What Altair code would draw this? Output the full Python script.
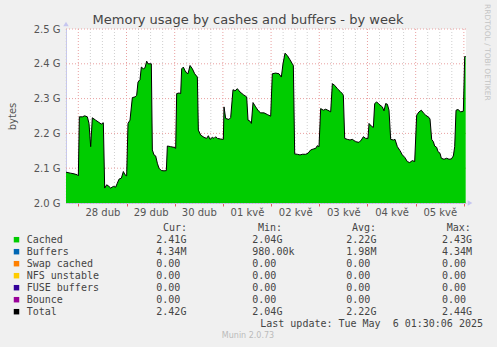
import altair as alt
import pandas as pd

# ---- data (hours since 27 Apr 00:00, value in GB) ----
hours = [17.87, 20.20, 21.86, 23.52, 24.02, 24.51, 26.01, 27.17, 28.50, 29.33, 30.16, 30.98,
         32.64, 34.31, 35.47, 36.47, 37.13, 38.13, 39.29, 40.12, 41.45, 42.61, 43.44, 44.27,
         45.44, 46.43, 47.26, 48.08, 48.75, 49.74, 50.91, 52.24, 53.06, 53.73, 54.72, 55.39,
         56.39, 57.22, 58.05, 58.71, 60.37, 60.87, 61.70, 62.53, 63.36, 64.18, 65.35, 66.68,
         67.84, 68.34, 70.00, 71.66, 72.49, 72.99, 74.15, 74.98, 75.48, 76.31, 77.47, 78.64,
         79.63, 80.79, 81.96, 83.29, 83.78, 84.94, 86.60, 87.92, 88.76, 89.59, 90.75, 91.58,
         92.41, 93.24, 94.90, 96.23, 96.56, 97.39, 99.05, 99.88, 101.04, 102.03, 103.20, 104.53,
         106.19, 107.85, 108.52, 109.51, 110.18, 111.00, 112.33, 113.66, 114.82, 116.48,
         118.14, 119.80, 120.62, 122.28, 123.94, 125.11, 125.94, 126.93, 128.10, 129.43,
         130.58, 131.09, 131.75, 133.08, 134.40, 135.57, 137.23, 138.38, 139.71, 141.04,
         142.21, 143.03, 143.87, 144.69, 146.02, 147.19, 148.85, 149.68, 150.51, 151.67,
         153.00, 154.33, 155.49, 155.99, 156.65, 157.98, 159.31, 160.46, 162.12, 163.79,
         164.95, 165.95, 167.11, 168.27, 168.77, 169.93, 170.93, 171.59, 172.59, 173.75,
         175.41, 176.24, 177.07, 177.90, 178.73, 179.56, 180.89, 181.72, 182.89, 184.20,
         185.37, 186.53, 187.86, 189.02, 190.35, 191.51, 192.51, 193.67, 194.83, 195.83,
         196.99, 198.66, 199.15, 199.98, 200.81, 201.47, 202.47, 203.13, 204.13, 204.79,
         206.12, 207.45, 208.61, 209.78, 210.77, 211.44, 212.10, 213.10, 214.43, 215.75,
         216.42, 216.92]
cached = [2.0886, 2.0857, 2.0838, 2.0810, 2.0781, 2.2476, 2.2476, 2.2505, 2.2476, 2.2286, 2.1619, 2.2448,
          2.2381, 2.2314, 2.2267, 2.2305, 2.0429, 2.0524, 2.0476, 2.0429, 2.0476, 2.0457, 2.0571, 2.0686,
          2.0714, 2.0905, 2.0810, 2.0781, 2.2286, 2.2381, 2.3029, 2.3048, 2.3095, 2.3476, 2.3543, 2.3905,
          2.3857, 2.3886, 2.4076, 2.4000, 2.4000, 2.1524, 2.1381, 2.1352, 2.1143, 2.1000, 2.0933, 2.0924,
          2.0930, 2.1638, 2.1619, 2.1600, 2.1571, 2.3143, 2.3162, 2.3143, 2.3857, 2.3905, 2.3762, 2.3714,
          2.3952, 2.3857, 2.3714, 2.3619, 2.2095, 2.1952, 2.1886, 2.1857, 2.1933, 2.1829, 2.1886, 2.1857,
          2.1905, 2.1857, 2.1838, 2.1829, 2.2762, 2.2429, 2.2400, 2.2457, 2.3257, 2.3219, 2.3286, 2.3190,
          2.3114, 2.3048, 2.2381, 2.2352, 2.2286, 2.2886, 2.2762, 2.2648, 2.2590, 2.2590,
          2.2543, 2.2495, 2.3714, 2.3733, 2.3714, 2.3619, 2.4000, 2.4305, 2.4238, 2.4114,
          2.4000, 2.3952, 2.1410, 2.1400, 2.1381, 2.1400, 2.1400, 2.1429, 2.1524, 2.1552,
          2.1571, 2.1648, 2.1619, 2.2714, 2.2667, 2.2695, 2.2648, 2.2619, 2.3429, 2.3381,
          2.3286, 2.3210, 2.3143, 2.3095, 2.1857, 2.1829, 2.1810, 2.1829, 2.1762, 2.1743,
          2.1810, 2.1905, 2.1857, 2.1857, 2.2286, 2.2210, 2.2171, 2.2857, 2.2905, 2.2838,
          2.2762, 2.2648, 2.2857, 2.2838, 2.2667, 2.1829, 2.1810, 2.1829, 2.1619, 2.1505,
          2.1381, 2.1314, 2.1190, 2.1162, 2.1219, 2.1190, 2.2524, 2.2619, 2.2667, 2.2590,
          2.2524, 2.2457, 2.2410, 2.1829, 2.1762, 2.1638, 2.1600, 2.1476, 2.1429, 2.1286,
          2.1257, 2.1286, 2.1257, 2.1267, 2.1352, 2.1619, 2.2667, 2.2686, 2.2619, 2.2638,
          2.4210, 2.4210]

# axis ticks / labels
grid_hours = [18, 24, 30, 36, 42, 48, 54, 60, 66, 72, 78, 84, 90, 96, 102, 108, 114, 120,
              126, 132, 138, 144, 150, 156, 162, 168, 174, 180, 186, 192, 198, 204, 210, 216]
day_labels = ["27 dub", "28 dub", "29 dub", "30 dub", "01 kvě", "02 kvě", "03 kvě", "04 kvě", "05 kvě"]
y_ticks = [2.0, 2.1, 2.2, 2.3, 2.4, 2.5]

# legend table
legend_names = ["Cached", "Buffers", "Swap cached", "NFS unstable", "FUSE buffers", "Bounce", "Total"]
legend_colors = ["#00cc00", "#0066b3", "#ff8000", "#ffcc00", "#330099", "#990099", "#000000"]
cur_num = ["2.41", "4.34", "0.00", "0.00", "0.00", "0.00", "2.42"]
cur_sfx = ["G", "M", "", "", "", "", "G"]
min_num = ["2.04", "980.00", "0.00", "0.00", "0.00", "0.00", "2.04"]
min_sfx = ["G", "k", "", "", "", "", "G"]
avg_num = ["2.22", "1.98", "0.00", "0.00", "0.00", "0.00", "2.22"]
avg_sfx = ["G", "M", "", "", "", "", "G"]
max_num = ["2.43", "4.34", "0.00", "0.00", "0.00", "0.00", "2.44"]
max_sfx = ["G", "M", "", "", "", "", "G"]
headers = ["Cur:", "Min:", "Avg:", "Max:"]

NB = "\u00a0"


def fmt(n, s):
    return NB * (6 - len(n)) + n + s


df = pd.DataFrame({"h": hours, "v": cached})
leg = pd.DataFrame({
    "row": list(range(len(legend_names))),
    "name": legend_names,
    "color": legend_colors,
    "cur": [fmt(n, s) for n, s in zip(cur_num, cur_sfx)],
    "mn": [fmt(n, s) for n, s in zip(min_num, min_sfx)],
    "avg": [fmt(n, s) for n, s in zip(avg_num, avg_sfx)],
    "mx": [fmt(n, s) for n, s in zip(max_num, max_sfx)],
})

MAJOR = "#e9a0a0"
MINOR = "#cfcfcf"
AXISC = "#c6c6f0"
TXT = "#555555"

vgrid = pd.DataFrame({"h": grid_hours,
                      "c": [MAJOR if h % 24 == 0 else MINOR for h in grid_hours]})
hgrid = pd.DataFrame({"g": y_ticks})

label_arr = "[" + ",".join("'" + d + "'" for d in day_labels) + "]"
x_axis = alt.Axis(
    values=grid_hours, grid=False,
    tickColor={"condition": {"test": "datum.value % 24 === 0", "value": "#e06060"}, "value": "transparent"},
    tickSize=3, domainColor=AXISC,
    labelExpr="datum.value % 24 === 12 ? " + label_arr + "[floor(datum.value / 24)] : ''",
    labelFont="DejaVu Sans", labelFontSize=10, labelColor=TXT, labelPadding=6,
    labelBaseline="middle", labelOverlap=False, labelFlush=False, title=None,
)
y_axis = alt.Axis(
    values=y_ticks, grid=False,
    tickSize=0, domainColor=AXISC,
    labelExpr="format(datum.value, '.1f') + ' G'",
    labelFont="DejaVu Sans", labelFontSize=10, labelColor=TXT, labelPadding=6,
    title="bytes", titleFont="DejaVu Sans", titleFontSize=10, titleFontWeight="normal",
    titleColor=TXT, titleX=-54, titleY=87, titleAngle=-90, titleAlign="center",
    titleBaseline="middle",
)

x_scale = alt.Scale(domain=[17.87, 217.07], nice=False, zero=False)
x_enc = alt.X("h:Q", scale=x_scale, axis=x_axis)
y_scale = alt.Scale(domain=[2.0, 2.5], nice=False, zero=False)

vrules = alt.Chart(vgrid).mark_rule(strokeDash=[1, 2], strokeWidth=1).encode(
    x=x_enc, y=alt.value(0), y2=alt.value(174), color=alt.Color("c:N", scale=None))
hrules = alt.Chart(hgrid).mark_rule(strokeDash=[1, 2], strokeWidth=1, color=MAJOR).encode(
    y=alt.Y("g:Q", scale=y_scale, axis=None), x=alt.value(0), x2=alt.value(400))

area = alt.Chart(df).mark_area(color="#00cc00", opacity=1, clip=True).encode(
    x=x_enc, y=alt.Y("v:Q", scale=y_scale, axis=y_axis))
line = alt.Chart(df).mark_line(color="#000000", strokeWidth=1).encode(
    x=x_enc, y=alt.Y("v:Q", scale=y_scale, axis=None))

one = pd.DataFrame({"a": [0]})
arrow_y = alt.Chart(one).mark_point(shape="triangle-up", filled=True, color=AXISC, size=30, opacity=1).encode(
    x=alt.value(0), y=alt.value(-5))
arrow_x = alt.Chart(one).mark_point(shape="triangle-right", filled=True, color=AXISC, size=30, opacity=1).encode(
    x=alt.value(404), y=alt.value(174))

title = alt.Chart(one).mark_text(font="DejaVu Sans", fontSize=13, color="#444444",
                                 align="center", baseline="alphabetic").encode(
    x=alt.value(182), y=alt.value(-5), text=alt.value("Memory usage by cashes and buffers - by week"))
rrd = alt.Chart(one).mark_text(font="DejaVu Sans", fontSize=7.5, color="#c4c4c4", angle=90,
                               align="left", baseline="middle").encode(
    x=alt.value(421), y=alt.value(-25), text=alt.value("RRDTOOL / TOBI OETIKER"))

row_y = alt.Y("row:Q", scale=alt.Scale(domain=[0, 6], range=[210.7, 282.7]), axis=None)
mono = dict(font="DejaVu Sans Mono", fontSize=10, color="#444444", baseline="middle")

squares = alt.Chart(leg).mark_square(size=30, opacity=1).encode(
    x=alt.value(-49.5), y=row_y, color=alt.Color("color:N", scale=None))
names = alt.Chart(leg).mark_text(align="left", **mono).encode(x=alt.value(-39.3), y=row_y, text="name:N")
cols = []
for field, px in [("cur", 90.3), ("mn", 186.3), ("avg", 280.3), ("mx", 376.0)]:
    cols.append(alt.Chart(leg).mark_text(align="left", **mono).encode(
        x=alt.value(px), y=row_y, text=f"{field}:N"))
hdrs = []
for htxt, px in zip(headers, [97.0, 192.0, 286.0, 380.7]):
    hdrs.append(alt.Chart(one).mark_text(align="left", **mono).encode(
        x=alt.value(px), y=alt.value(198.7), text=alt.value(htxt)))
last = alt.Chart(one).mark_text(align="right", **mono).encode(
    x=alt.value(417), y=alt.value(294.7),
    text=alt.value("Last update: Tue May" + NB + NB + "6 01:30:06 2025"))
munin = alt.Chart(one).mark_text(font="DejaVu Sans", fontSize=8, color="#bbbbbb",
                                 align="center", baseline="middle").encode(
    x=alt.value(182), y=alt.value(307), text=alt.value("Munin 2.0.73"))

chart = alt.layer(vrules, hrules, area, line, arrow_y, arrow_x, title, rrd, squares, names,
                  *cols, *hdrs, last, munin
                  ).resolve_scale(y="independent").properties(
    width=400, height=174, autosize="none",
    padding={"left": 66, "top": 29, "right": 31, "bottom": 144},
).configure(background="#f0f0f0").configure_view(stroke=None, fill="white")

chart.save("out.html", embed_options={"renderer": "svg", "actions": False})
